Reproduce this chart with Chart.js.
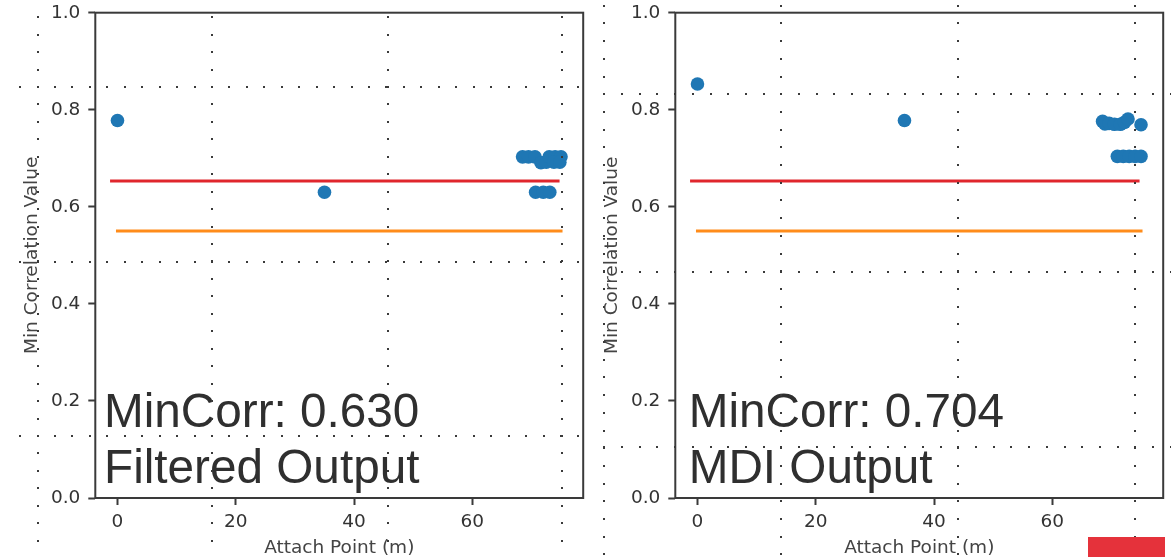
<!DOCTYPE html>
<html>
<head>
<meta charset="utf-8">
<title>Min Correlation vs Attach Point</title>
<script src="https://cdn.jsdelivr.net/npm/chart.js@4.4.1/dist/chart.umd.min.js"></script>
<style>
  html, body { margin: 0; padding: 0; background: #fff; overflow: hidden; }
  #wrap { position: relative; width: 1171px; height: 557px; overflow: hidden; background: #fff; }
  canvas.panel { position: absolute; top: 0; }
  #cLeft { left: 0; }
  #cRight { left: 580px; }
  #guides { position: absolute; left: 0; top: 0; pointer-events: none; }
  #tag { position: absolute; left: 1088px; top: 537px; width: 77px; height: 20px; background: #e5323b; }
</style>
</head>
<body>
<div id="wrap">
  <canvas id="cLeft" class="panel" width="590" height="557"></canvas>
  <canvas id="cRight" class="panel" width="590" height="557"></canvas>
  <canvas id="guides" width="1171" height="557"></canvas>
  <div id="tag"></div>
</div>
<script>
// ---- axis ticks ----
const xTicks = [0, 20, 40, 60];
const yTicks = [0.0, 0.2, 0.4, 0.6, 0.8, 1.0];

// ---- filtered output: attach point (m) / min correlation ----
const filteredX = [0, 35, 68.5, 69.5, 70.6, 71.6, 72.5, 73.0, 74.0, 75.0, 73.8, 74.8, 70.7, 72.0, 73.1];
const filteredY = [0.778, 0.630, 0.703, 0.703, 0.703, 0.691, 0.692, 0.703, 0.703, 0.703, 0.692, 0.692, 0.630, 0.630, 0.630];

// ---- MDI output: attach point (m) / min correlation ----
const mdiX = [0, 35, 68.5, 68.9, 69.6, 70.5, 71.5, 72.2, 72.8, 75.0, 71.0, 72.0, 73.0, 74.0, 75.0];
const mdiY = [0.853, 0.778, 0.776, 0.771, 0.772, 0.770, 0.770, 0.774, 0.781, 0.769, 0.704, 0.704, 0.704, 0.704, 0.704];

// ---- threshold lines ----
const upperLimitX = [-1, 74.5];
const upperLimitY = [0.653, 0.653];
const lowerLimitX = [0, 75];
const lowerLimitY = [0.55, 0.55];

const panelNames = ['Filtered Output', 'MDI Output'];

const toPoints = (xs, ys) => xs.map((x, i) => ({ x: x, y: ys[i] }));

const TICK_FONT = { family: 'DejaVu Sans', size: 18.5, lineHeight: 1 };

// frame around the plotting area (all four spines)
const framePlugin = {
  id: 'frame',
  afterDatasetsDraw(chart) {
    const { ctx, chartArea: a } = chart;
    ctx.save();
    ctx.strokeStyle = '#3a3a3a';
    ctx.lineWidth = 2;
    ctx.strokeRect(a.left, a.top, a.right - a.left, a.bottom - a.top);
    ctx.restore();
  }
};

// large two-line note in the lower-left corner of each plot
function notePlugin(lines, dx) {
  return {
    id: 'note',
    afterDraw(chart) {
      const { ctx, chartArea: a } = chart;
      ctx.save();
      ctx.font = '47.7px "Liberation Sans", Arial, sans-serif';
      ctx.fillStyle = '#2f2f2f';
      ctx.textAlign = 'left';
      ctx.textBaseline = 'alphabetic';
      ctx.fillText(lines[0], a.left + dx, a.bottom - 71.5);
      ctx.fillText(lines[1], a.left + dx, a.bottom - 15.5);
      ctx.restore();
    }
  };
}

function makeChart(canvasId, xs, ys, name, noteDx) {
  const minCorr = Math.min(...ys);
  const noteLines = ['MinCorr: ' + minCorr.toFixed(3), name];
  return new Chart(document.getElementById(canvasId), {
    type: 'scatter',
    data: {
      datasets: [
        {
          type: 'scatter',
          data: toPoints(xs, ys),
          pointRadius: 6.8,
          pointHoverRadius: 6.8,
          pointBackgroundColor: '#1f77b4',
          pointBorderColor: '#1f77b4',
          pointBorderWidth: 0
        },
        {
          type: 'line',
          data: toPoints(upperLimitX, upperLimitY),
          borderColor: '#e0262d',
          borderWidth: 3,
          borderCapStyle: 'square',
          pointRadius: 0,
          fill: false
        },
        {
          type: 'line',
          data: toPoints(lowerLimitX, lowerLimitY),
          borderColor: '#ff8c1a',
          borderWidth: 3,
          borderCapStyle: 'square',
          pointRadius: 0,
          fill: false
        }
      ]
    },
    options: {
      responsive: false,
      animation: false,
      devicePixelRatio: 1,
      events: [],
      layout: { padding: { left: 0, right: 5.6, top: 12.7, bottom: 0 } },
      plugins: { legend: { display: false }, tooltip: { enabled: false } },
      scales: {
        x: {
          type: 'linear',
          min: -3.75,
          max: 78.75,
          afterBuildTicks: s => { s.ticks = xTicks.map(v => ({ value: v })); },
          afterFit: s => { s.height = 59; s.paddingLeft = 0; s.paddingRight = 0; },
          border: { display: false },
          grid: { drawOnChartArea: false, drawTicks: true, tickLength: 7, tickWidth: 2, tickColor: '#3a3a3a' },
          ticks: { font: TICK_FONT, color: '#333', padding: 8, maxRotation: 0, autoSkip: false,
                   callback: v => String(v) },
          title: { display: true, text: 'Attach Point (m)', color: '#444',
                   font: { family: 'DejaVu Sans', size: 18.5, lineHeight: 1 },
                   padding: { top: 0, bottom: 0 } }
        },
        y: {
          type: 'linear',
          min: 0,
          max: 1,
          afterBuildTicks: s => { s.ticks = yTicks.map(v => ({ value: v })); },
          afterFit: s => { s.width = 95.3; s.paddingTop = 0; s.paddingBottom = 0; },
          border: { display: false },
          grid: { drawOnChartArea: false, drawTicks: true, tickLength: 7, tickWidth: 2, tickColor: '#3a3a3a' },
          ticks: { font: TICK_FONT, color: '#333', padding: 8, autoSkip: false,
                   callback: v => Number(v).toFixed(1) },
          title: { display: true, text: 'Min Correlation Value', color: '#444',
                   font: { family: 'DejaVu Sans', size: 18.5, lineHeight: 1 },
                   padding: { top: 23, bottom: 0 } }
        }
      }
    },
    plugins: [framePlugin, notePlugin(noteLines, noteDx)]
  });
}

makeChart('cLeft', filteredX, filteredY, panelNames[0], 8.7);
makeChart('cRight', mdiX, mdiY, panelNames[1], 13.4);

// dotted slide guides laid over both panels
(function drawGuides() {
  const ctx = document.getElementById('guides').getContext('2d');
  ctx.fillStyle = '#3a3a3a';
  const dot = (x, y) => ctx.fillRect(Math.round(x) - 1, Math.round(y) - 1, 2, 2);
  function grid(cols, rows, step, x0, x1) {
    cols.forEach(cx => {
      for (let y = rows[0] - Math.floor(rows[0] / step) * step; y <= 557; y += step) dot(cx, y);
    });
    rows.forEach(ry => {
      const start = cols[0] - Math.floor((cols[0] - x0) / step) * step;
      for (let x = start; x <= x1; x += step) dot(x, ry);
    });
  }
  grid([37.5, 212, 387.5, 562], [87, 261.5, 436], 17.45, 19, 581);
  grid([604.3, 781.3, 958.3, 1135.3], [94.3, 271.7, 447], 17.7, 604, 1171);
})();
</script>
</body>
</html>
